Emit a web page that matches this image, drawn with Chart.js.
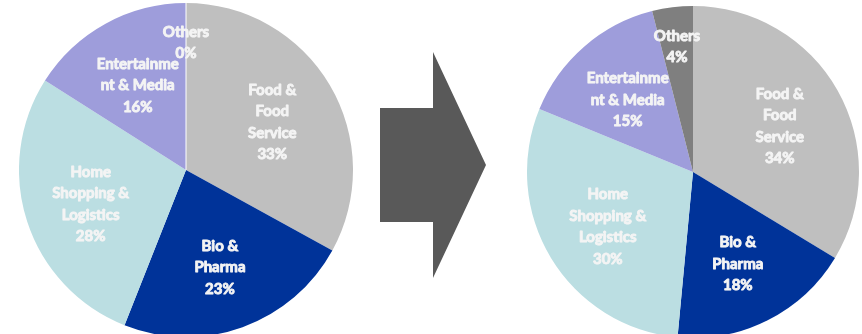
<!DOCTYPE html>
<html>
<head>
<meta charset="utf-8">
<script src="https://cdn.jsdelivr.net/npm/chart.js@4.4.1/dist/chart.umd.min.js"></script>
<style>
  html, body { margin: 0; padding: 0; background: #ffffff; overflow: hidden; }
  body { width: 862px; height: 334px; position: relative; }
  .pie { position: absolute; }
  #leftBox { left: 19px; top: 3px; width: 334px; height: 334px; }
  #rightBox { left: 527px; top: 6px; width: 332px; height: 332px; }
  #arrow { position: absolute; left: 380px; top: 52px; }
</style>
</head>
<body>
<div id="leftBox" class="pie"><canvas id="leftPie"></canvas></div>
<svg id="arrow" width="107" height="227" viewBox="0 0 107 227">
  <polygon points="0,56 53,56 53,0 106,113 53,226 53,170 0,170" fill="#595959"/>
</svg>
<div id="rightBox" class="pie"><canvas id="rightPie"></canvas></div>

<script>
// kategori (urutan searah jarum jam dari atas)
const categories = [
  "Food &\nFood\nService",
  "Bio &\nPharma",
  "Home\nShopping &\nLogistics",
  "Entertainme\nnt & Media",
  "Others"
];
const sliceColors = ["#bfbfbf", "#003399", "#bbdee2", "#9e9ddb", "#7f7f7f"];

// nilai persentase (kiri = sebelum, kanan = sesudah)
const beforeValues = [33, 23, 28, 16, 0];
const afterValues = [34, 18, 30, 15, 4];

// Plugin label di dalam irisan
const sliceLabels = {
  id: 'sliceLabels',
  afterDatasetsDraw(chart) {
    const ctx = chart.ctx;
    const meta = chart.getDatasetMeta(0);
    const values = chart.data.datasets[0].data;
    const total = values.reduce((a, b) => a + b, 0);
    ctx.save();
    meta.data.forEach((arc, i) => {
      const p = arc.getProps(['x', 'y', 'startAngle', 'endAngle', 'outerRadius']);
      const share = values[i] / total;
      // irisan kosong: garis putih tipis
      if (values[i] === 0) {
        ctx.strokeStyle = '#ffffff';
        ctx.lineWidth = 1;
        ctx.beginPath();
        ctx.moveTo(p.x, p.y);
        ctx.lineTo(p.x + Math.cos(p.startAngle) * p.outerRadius, p.y + Math.sin(p.startAngle) * p.outerRadius);
        ctx.stroke();
      }
      const mid = (p.startAngle + p.endAngle) / 2;
      const frac = share < 0.06 ? 0.78 : 0.6;
      const cx = p.x + Math.cos(mid) * p.outerRadius * frac;
      const cy = p.y + Math.sin(mid) * p.outerRadius * frac + 3;
      const lines = chart.data.labels[i].split('\n');
      lines.push(Math.round(values[i]) + '%');
      const lh = 21.5;
      ctx.font = 'bold 15px Lato';
      ctx.fillStyle = '#f4f4f4';
      ctx.strokeStyle = '#f4f4f4';
      ctx.lineWidth = 0.9;
      ctx.lineJoin = 'round';
      ctx.textAlign = 'center';
      ctx.textBaseline = 'middle';
      lines.forEach((t, k) => {
        const ty = cy + (k - (lines.length - 1) / 2) * lh;
        ctx.fillText(t, cx, ty);
        ctx.strokeText(t, cx, ty);
      });
    });
    ctx.restore();
  }
};

function makePie(canvasId, values) {
  return new Chart(document.getElementById(canvasId), {
    type: 'pie',
    data: {
      labels: categories,
      datasets: [{
        data: values,
        backgroundColor: sliceColors,
        borderWidth: 0
      }]
    },
    options: {
      responsive: true,
      maintainAspectRatio: false,
      animation: false,
      layout: { padding: 0 },
      plugins: {
        legend: { display: false },
        tooltip: { enabled: false }
      }
    },
    plugins: [sliceLabels]
  });
}

makePie('leftPie', beforeValues);
makePie('rightPie', afterValues);
</script>
</body>
</html>
